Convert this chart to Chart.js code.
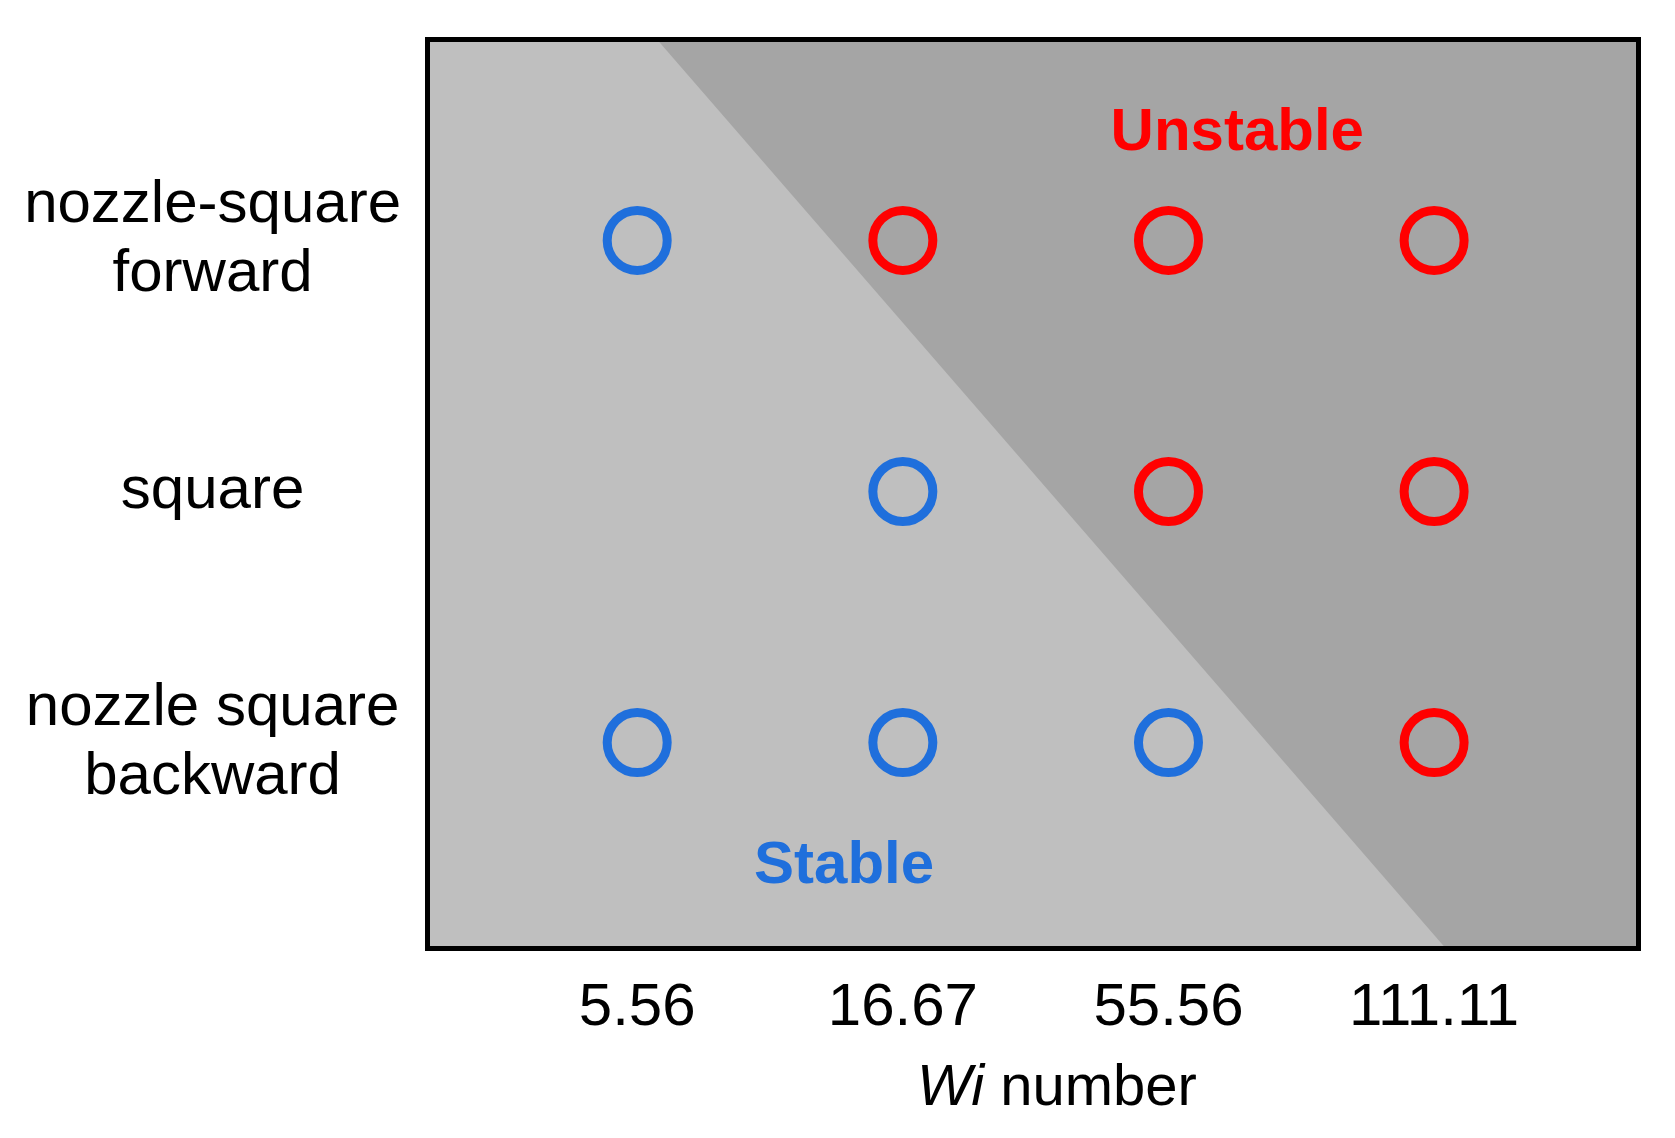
<!DOCTYPE html>
<html>
<head>
<meta charset="utf-8">
<script src="https://cdn.jsdelivr.net/npm/chart.js@4.4.1/dist/chart.umd.min.js"></script>
<style>
  html, body { margin: 0; padding: 0; background: #ffffff; }
  #wrap { width: 1675px; height: 1138px; }
</style>
</head>
<body>
<div id="wrap"><canvas id="stabilityChart" width="1675" height="1138"></canvas></div>
<script>
// Wi number categories (x) and nozzle geometries (y, bottom to top)
const wiLabels = ['5.56', '16.67', '55.56', '111.11'];
const geometryLabels = [['nozzle square', 'backward'], ['square'], ['nozzle-square', 'forward']];

// outcome per geometry, one entry per Wi value (null = not tested)
const backwardStatus = ['stable', 'stable', 'stable', 'unstable'];
const squareStatus = [null, 'stable', 'unstable', 'unstable'];
const forwardStatus = ['stable', 'unstable', 'unstable', 'unstable'];

// stable / unstable boundary (data units), dark region lies above it
const boundaryX = [0.083, 3.036, 3.76];
const boundaryY = [2.79, -0.81, -0.81];

const FONT = "'Liberation Sans', Arial, Helvetica, sans-serif";
const BLUE = '#1f6fdc';
const RED = '#ff0000';

const statusRows = [backwardStatus, squareStatus, forwardStatus];

function pointsFor(kind) {
    const pts = [];
    statusRows.forEach((row, y) => {
        row.forEach((s, x) => {
            if (s === kind) pts.push({ x: x, y: y });
        });
    });
    return pts;
}

const framePlugin = {
    id: 'frame',
    beforeDraw(chart) {
        const { ctx, chartArea: a } = chart;
        ctx.save();
        ctx.fillStyle = '#bfbfbf';
        ctx.fillRect(a.left, a.top, a.right - a.left, a.bottom - a.top);
        ctx.restore();
    },
    afterDatasetsDraw(chart) {
        const { ctx, chartArea: a } = chart;
        ctx.save();
        ctx.strokeStyle = '#000000';
        ctx.lineWidth = 5;
        ctx.strokeRect(a.left - 2.5, a.top - 2.5, a.right - a.left + 5, a.bottom - a.top + 5);
        ctx.restore();
    },
    afterDraw(chart) {
        const { ctx, chartArea: a } = chart;
        const xs = chart.scales.x;
        const ys = chart.scales.y;
        ctx.save();
        ctx.textAlign = 'center';
        ctx.textBaseline = 'alphabetic';
        ctx.font = 'bold 60px ' + FONT;
        ctx.fillStyle = RED;
        ctx.fillText('Unstable', xs.getPixelForValue(2.259), ys.getPixelForValue(2.36));
        ctx.fillStyle = BLUE;
        ctx.fillText('Stable', xs.getPixelForValue(0.779), ys.getPixelForValue(-0.56));

        // axis title with italic "Wi"
        ctx.fillStyle = '#000000';
        ctx.textAlign = 'left';
        const italic = 'italic 58px ' + FONT;
        const normal = '58px ' + FONT;
        ctx.font = italic;
        const w1 = ctx.measureText('Wi').width;
        ctx.font = normal;
        const w2 = ctx.measureText(' number').width;
        const cx = xs.getPixelForValue(1.58);
        const by = a.bottom + 159;
        const start = cx - (w1 + w2) / 2;
        ctx.font = italic;
        ctx.fillText('Wi', start, by);
        ctx.font = normal;
        ctx.fillText(' number', start + w1, by);
        ctx.restore();
    }
};

new Chart(document.getElementById('stabilityChart').getContext('2d'), {
    type: 'scatter',
    data: {
        datasets: [{
            label: 'Stable',
            data: pointsFor('stable'),
            pointStyle: 'circle',
            pointRadius: 30,
            pointHoverRadius: 30,
            borderWidth: 9,
            borderColor: BLUE,
            backgroundColor: 'rgba(0,0,0,0)',
            order: 1
        }, {
            label: 'Unstable',
            data: pointsFor('unstable'),
            pointStyle: 'circle',
            pointRadius: 30,
            pointHoverRadius: 30,
            borderWidth: 9,
            borderColor: RED,
            backgroundColor: 'rgba(0,0,0,0)',
            order: 1
        }, {
            type: 'line',
            label: 'Unstable region',
            data: boundaryX.map((x, i) => ({ x: x, y: boundaryY[i] })),
            fill: 'end',
            backgroundColor: '#a5a5a5',
            borderWidth: 0,
            pointRadius: 0,
            tension: 0,
            order: 3
        }]
    },
    options: {
        responsive: false,
        animation: false,
        layout: { padding: { top: 42, right: 35, left: 0, bottom: 0 } },
        plugins: {
            legend: { display: false },
            tooltip: { enabled: false }
        },
        scales: {
            x: {
                type: 'linear',
                min: -0.78,
                max: 3.76,
                grid: { display: false },
                border: { display: false },
                afterBuildTicks: (scale) => {
                    scale.ticks = wiLabels.map((_, i) => ({ value: i }));
                },
                afterFit: (scale) => {
                    scale.height = 192;
                    scale.paddingLeft = 0;
                    scale.paddingRight = 0;
                },
                ticks: {
                    autoSkip: false,
                    maxRotation: 0,
                    padding: 18,
                    color: '#000000',
                    font: { family: FONT, size: 60 },
                    callback: (v) => wiLabels[Math.round(v)]
                }
            },
            y: {
                type: 'linear',
                min: -0.81,
                max: 2.79,
                grid: { display: false },
                border: { display: false },
                afterBuildTicks: (scale) => {
                    scale.ticks = geometryLabels.map((_, i) => ({ value: i }));
                },
                afterFit: (scale) => {
                    scale.width = 430;
                    scale.paddingTop = 0;
                    scale.paddingBottom = 0;
                },
                ticks: {
                    autoSkip: false,
                    crossAlign: 'center',
                    padding: 21,
                    color: '#000000',
                    font: { family: FONT, size: 60, lineHeight: 1.15 },
                    callback: (v) => geometryLabels[Math.round(v)]
                }
            }
        }
    },
    plugins: [framePlugin]
});
</script>
</body>
</html>
